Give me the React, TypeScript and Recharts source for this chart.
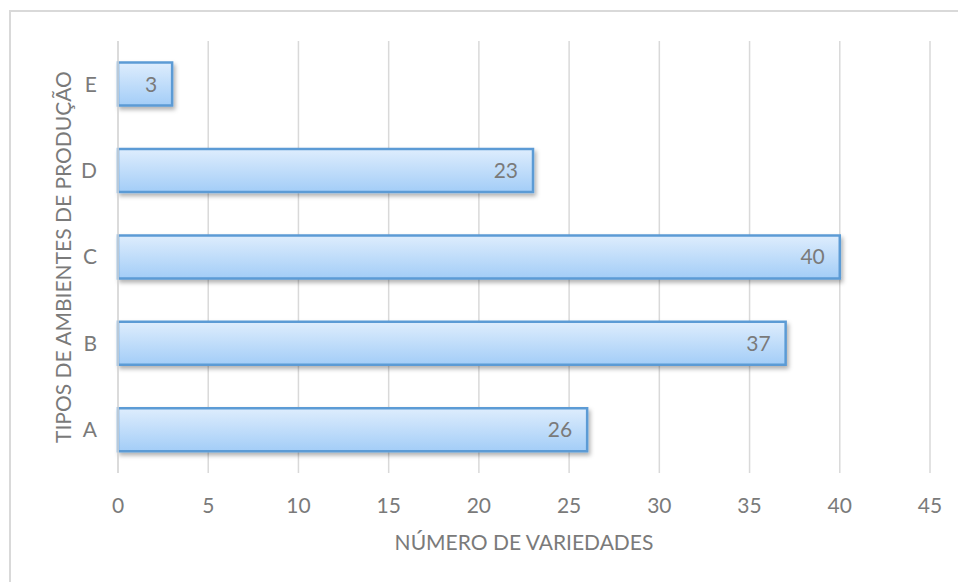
import React from 'react';
import { BarChart, Bar, XAxis, YAxis, CartesianGrid, LabelList, Label } from 'recharts';

const categories = ['A', 'B', 'C', 'D', 'E'];
const varieties = [26, 37, 40, 23, 3];
const xTicks = [0, 5, 10, 15, 20, 25, 30, 35, 40, 45];

const data = categories.map((name, i) => ({ name, value: varieties[i] }));

const FONT = 'Lato, "Open Sans", sans-serif';
const GREY = '#7a7a7a';
const SIZE = 21;

const App: React.FC = () => {
  return (
    <div
      style={{
        position: 'absolute',
        left: 9,
        top: 10,
        width: 949,
        height: 572,
        boxSizing: 'border-box',
        overflow: 'hidden',
        borderTop: '2px solid #d9d9d9',
        borderLeft: '2px solid #d9d9d9',
        fontFamily: FONT,
      }}
    >
      <BarChart
        width={947}
        height={570}
        data={data}
        layout="vertical"
        barCategoryGap="25%"
        margin={{ top: 29, right: 28, bottom: 67, left: 47 }}
      >
        <defs>
          <linearGradient id="barFill" x1="0" y1="0" x2="0" y2="1">
            <stop offset="0%" stopColor="#deedfd" />
            <stop offset="100%" stopColor="#a3cdf7" />
          </linearGradient>
          <filter id="barShadow" x="-10%" y="-20%" width="130%" height="160%">
            <feDropShadow dx="2" dy="3" stdDeviation="2" floodColor="#000" floodOpacity="0.3" />
          </filter>
        </defs>
        <CartesianGrid horizontal={false} stroke="#d9d9d9" strokeWidth={1.5} />
        <XAxis
          type="number"
          domain={[0, 45]}
          ticks={xTicks}
          axisLine={false}
          tickLine={false}
          height={42}
          tickMargin={19}
          tick={{ fill: GREY, fontSize: SIZE, fontFamily: FONT }}
        >
          <Label
            value="NÚMERO DE VARIEDADES"
            position="bottom"
            offset={20}
            fill={GREY}
            fontSize={SIZE}
            fontFamily={FONT}
          />
        </XAxis>
        <YAxis
          type="category"
          dataKey="name"
          reversed
          width={60}
          axisLine={{ stroke: '#d9d9d9', strokeWidth: 1.5 }}
          tickLine={false}
          tickMargin={15}
          tick={{ fill: GREY, fontSize: SIZE, fontFamily: FONT }}
        >
          <Label
            value="TIPOS DE AMBIENTES DE PRODUÇÃO"
            angle={-90}
            position="insideLeft"
            offset={6}
            style={{ textAnchor: 'middle' }}
            fill={GREY}
            fontSize={SIZE}
            fontFamily={FONT}
          />
        </YAxis>
        <Bar
          dataKey="value"
          fill="url(#barFill)"
          stroke="#5b9bd5"
          strokeWidth={2.5}
          filter="url(#barShadow)"
          isAnimationActive={false}
        >
          <LabelList
            dataKey="value"
            position="insideRight"
            offset={15}
            fill={GREY}
            fontSize={SIZE}
            fontFamily={FONT}
          />
        </Bar>
      </BarChart>
    </div>
  );
};

export default App;
